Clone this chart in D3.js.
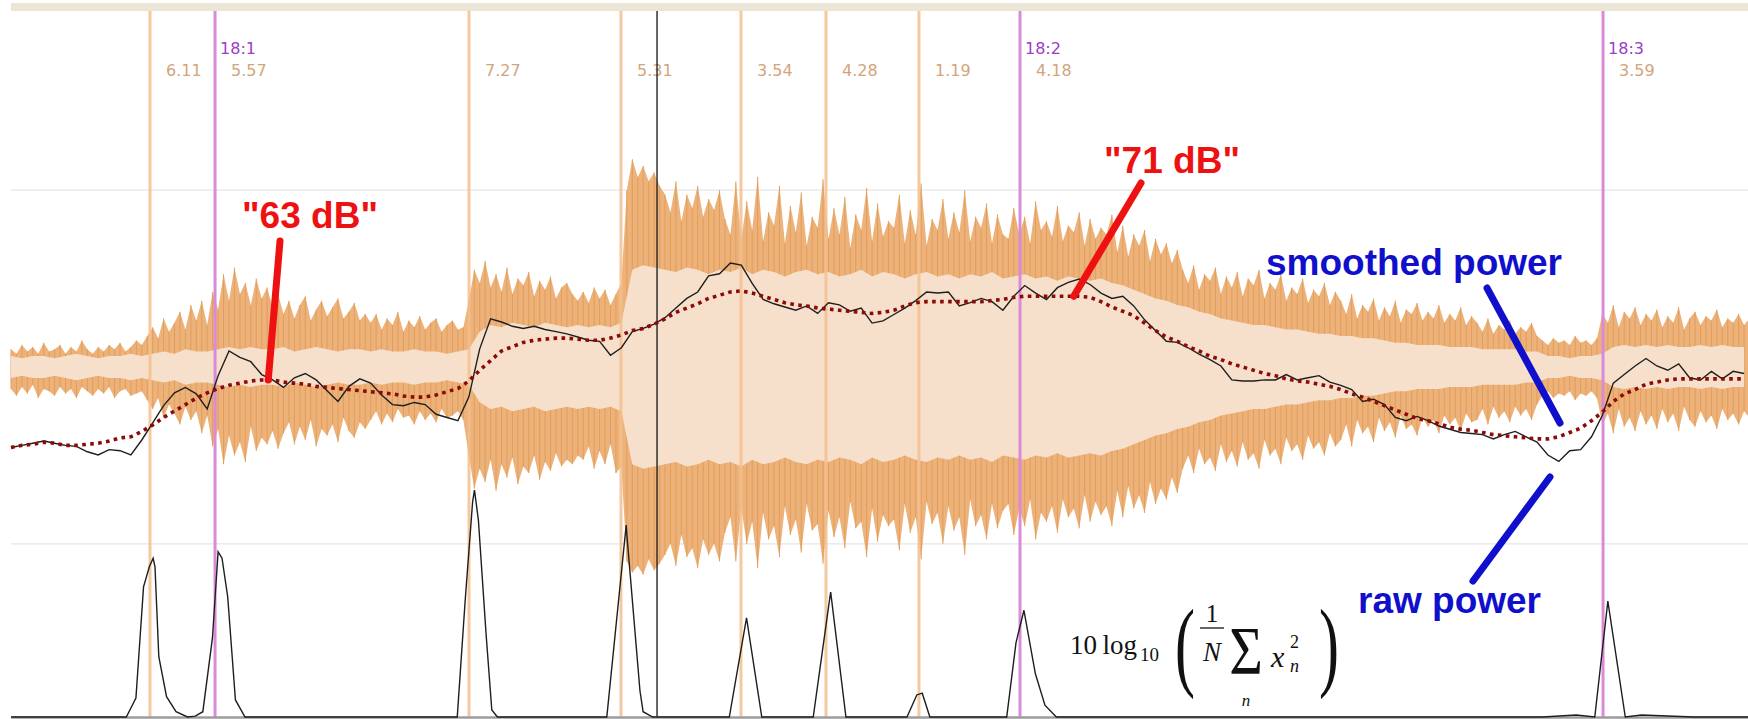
<!DOCTYPE html>
<html>
<head>
<meta charset="utf-8">
<script src="https://cdn.jsdelivr.net/npm/d3@7/dist/d3.min.js"></script>
<style>
  html, body { margin: 0; padding: 0; background: #fff; }
  svg { display: block; }
</style>
</head>
<body>
<div id="chart"></div>
<script>
// one value per analysis frame (frame 0..159)
const rawDb = [56.8, 57.0, 57.2, 57.4, 57.2, 57.0, 56.9, 56.4, 56.1, 56.6,
  56.5, 56.1, 57.5, 59.1, 60.7, 61.9, 62.4, 61.8, 60.4, 63.5,
  65.8, 65.2, 64.8, 63.6, 63.1, 62.4, 63.3, 63.7, 63.1, 62.1,
  61.1, 62.5, 63.2, 62.8, 61.7, 60.8, 60.7, 61.0, 60.8, 59.9,
  59.6, 59.3, 61.5, 66.0, 68.8, 68.5, 68.1, 67.9, 68.1, 67.8,
  67.6, 67.4, 67.1, 66.8, 66.7, 65.4, 66.1, 67.6, 67.9, 68.3,
  68.9, 69.8, 70.7, 71.3, 72.8, 73.0, 74.0, 73.8, 72.1, 70.6,
  70.2, 69.9, 69.6, 70.0, 69.3, 70.3, 70.1, 69.5, 69.8, 68.4,
  68.6, 69.2, 69.8, 70.5, 71.3, 71.2, 71.3, 70.0, 70.3, 70.7,
  70.4, 69.6, 70.9, 71.9, 71.2, 70.6, 71.7, 72.2, 72.5, 72.0,
  71.2, 70.7, 70.9, 70.0, 68.7, 67.7, 66.7, 66.6, 66.1, 65.5,
  65.0, 64.4, 63.1, 63.0, 63.0, 63.1, 63.1, 63.6, 63.1, 63.3,
  63.5, 62.9, 62.6, 62.2, 61.1, 61.3, 60.8, 59.6, 59.3, 59.7,
  59.3, 58.8, 58.5, 58.2, 58.1, 58.0, 57.6, 58.0, 58.3, 57.8,
  57.3, 56.1, 55.5, 56.5, 56.6, 57.8, 59.8, 62.8, 63.6, 64.4,
  65.1, 64.4, 64.0, 64.6, 63.3, 63.1, 63.9, 63.2, 63.9, 63.7];

const smoothDb = [56.8, 57.0, 57.1, 57.3, 57.2, 57.0, 57.0, 57.1, 57.2, 57.4,
  57.7, 57.8, 58.3, 58.9, 59.6, 60.2, 60.8, 61.4, 61.9, 62.3,
  62.6, 62.8, 63.0, 63.1, 63.1, 62.9, 62.8, 62.7, 62.5, 62.4,
  62.3, 62.2, 62.1, 62.0, 61.9, 61.8, 61.6, 61.5, 61.5, 61.7,
  62.0, 62.3, 63.0, 64.0, 64.9, 65.8, 66.2, 66.6, 66.8, 66.9,
  67.0, 67.0, 66.9, 66.8, 66.8, 67.0, 67.3, 67.7, 67.9, 68.3,
  68.8, 69.4, 69.8, 70.2, 70.7, 71.0, 71.3, 71.4, 71.2, 70.9,
  70.6, 70.3, 70.1, 70.0, 69.8, 69.7, 69.6, 69.5, 69.4, 69.3,
  69.4, 69.6, 70.0, 70.3, 70.4, 70.4, 70.4, 70.4, 70.4, 70.4,
  70.5, 70.6, 70.8, 70.9, 70.9, 70.9, 70.9, 70.9, 70.9, 70.8,
  70.4, 69.9, 69.5, 69.1, 68.4, 67.7, 67.1, 66.7, 66.2, 65.8,
  65.3, 65.0, 64.6, 64.3, 64.0, 63.7, 63.5, 63.2, 63.0, 62.9,
  62.7, 62.5, 62.2, 61.8, 61.5, 61.1, 60.7, 60.3, 59.9, 59.5,
  59.3, 59.0, 58.7, 58.5, 58.4, 58.2, 58.0, 57.9, 57.8, 57.7,
  57.6, 57.6, 57.8, 58.2, 58.6, 59.3, 60.1, 61.1, 61.8, 62.2,
  62.7, 62.9, 63.1, 63.2, 63.2, 63.2, 63.2, 63.2, 63.2, 63.2];

// rms level of the waveform, % of full scale, per frame
const rmsLevel = [5, 4, 5, 5, 4, 5, 6, 5, 4, 5, 5, 6, 5,
  6, 7, 6, 8, 7, 7,
  8, 9, 8, 9, 8, 8, 9, 7, 8, 9, 8, 7, 8, 8, 7, 8, 7, 7, 8, 7, 7, 6, 7, 8,
  16, 19, 18, 20, 19, 18, 20, 19, 18, 19, 18, 19, 18, 20,
  44, 46, 45, 44, 43, 45, 44, 42, 44, 43, 45, 42, 44, 43, 41, 43, 44, 42, 43, 41,
  42, 44, 41, 43, 42, 40, 42, 43, 41, 42, 40, 42, 41, 43, 40, 41, 42, 40, 41, 39,
  41, 40, 39, 40, 38,
  37, 35, 33, 31, 30, 28, 27, 25, 24, 22,
  21, 20, 19, 19, 18, 17, 17, 16, 15, 15, 14, 14, 13, 13, 12,
  11, 11, 10, 10, 10, 9, 9, 9, 8, 8, 8, 8, 7, 7,
  5, 5, 4, 5, 5, 6,
  9, 10, 9, 10, 9, 10, 9, 9, 10, 9, 10, 9, 9];

// waveform peaks, % of full scale, two per frame
const waveMax = [8, 6, 10, 7, 9, 6, 11, 7, 8, 10, 6, 9, 7, 12, 8, 6, 9, 7, 10, 8, 11, 7, 9, 12, 10,
  14, 18, 13, 22, 16, 20, 25, 17, 28, 21, 30, 19,
  34, 26, 42, 30, 45, 33, 38, 28, 40, 31, 36, 27, 33,
  24, 30, 22, 28, 32, 21, 26, 30, 23, 27, 31, 22, 25, 29, 21, 24,
  20, 24, 17, 22, 19, 25, 16, 21, 18, 23, 17, 20, 22, 16, 19, 21, 17, 18,
  30, 44, 38, 48, 36, 42, 34, 45, 33, 40, 37, 43, 32, 39, 35, 41, 31, 36, 38, 33, 30,
  34, 29, 36, 31, 35, 28, 33, 38,
  80, 94, 86, 91, 84, 88, 82, 78,
  70, 84, 66, 78, 72, 82, 68, 76, 71, 80, 67,
  60, 84, 58, 75, 62, 86, 57, 70, 64, 82, 56, 73, 61, 79, 55, 68, 63, 85, 58, 72,
  60, 77, 54, 69, 62, 81, 57, 74, 59, 66, 63, 78, 56, 71, 60, 83, 55, 67, 62, 76,
  58, 70, 61, 80, 57, 68, 63, 74, 56, 69, 60,
  58, 72, 60, 68, 56, 75, 62, 66, 59, 73, 57, 64, 61, 70, 55, 67, 58, 63, 60, 69,
  52, 64, 50, 60, 55, 62, 48, 58, 51, 56, 47, 53,
  44, 38, 46, 35, 42, 39, 45, 33, 41, 36, 43, 32, 40, 37, 44, 31, 38, 35, 42, 30,
  36, 33, 40, 29, 35, 32, 38, 28, 34,
  30, 24, 33, 22, 28, 25, 31, 21, 27, 23, 30, 20, 26, 24, 29, 21, 25, 22, 28, 20,
  24, 21, 27, 19, 23,
  20, 16, 22, 15, 19, 17, 21, 15, 18, 16, 20, 14,
  12, 10, 13, 11, 12, 10, 14, 11, 12, 10, 13,
  24, 20, 28, 18, 25, 22, 27, 19, 24, 21, 26, 18, 23, 20, 27, 17, 22, 25, 19, 23,
  21, 26, 18, 22, 20, 24, 19, 22];

const waveMin = [10, 13, 9, 12, 8, 14, 10, 11, 13, 9, 12, 10, 14, 9, 11, 13, 10, 12, 9, 14, 11, 10, 13, 12, 11,
  15, 19, 14, 23, 17, 21, 26, 18, 24, 20, 30, 22,
  36, 28, 44, 31, 40, 34, 43, 27, 38, 32, 35, 29, 37,
  30, 25, 35, 27, 33, 24, 36, 28, 31, 26, 34, 23, 29, 32, 25, 28,
  24, 20, 26, 21, 25, 19, 23, 22, 26, 20, 24, 21, 25, 19, 23, 22, 20, 24,
  40, 55, 46, 52, 42, 56, 44, 50, 41, 53, 45, 48, 40, 51, 43, 47, 39, 45, 42, 44, 40,
  42, 36, 46, 38, 44, 35, 48, 45,
  88, 93, 90, 94, 87, 92, 89, 85,
  80, 90, 76, 86, 82, 91, 78, 85, 80, 88, 75,
  68, 88, 64, 80, 70, 91, 66, 78, 72, 86, 63, 76, 69, 84, 62, 74, 71, 89, 65, 77,
  68, 82, 61, 73, 70, 86, 64, 79, 67, 72, 69, 83, 62, 75, 68, 87, 61, 71, 66, 80,
  63, 74, 68, 85, 60, 72, 67, 78, 62, 73, 65,
  62, 76, 64, 72, 60, 78, 66, 70, 63, 75, 60, 68, 64, 73, 58, 70, 61, 67, 63, 72,
  56, 68, 54, 64, 58, 66, 52, 62, 55, 60, 50, 57,
  46, 40, 48, 37, 44, 41, 47, 35, 43, 38, 45, 34, 42, 39, 46, 33, 40, 37, 44, 32,
  38, 35, 42, 31, 37, 34, 40, 30, 36,
  33, 26, 36, 24, 30, 27, 34, 23, 29, 25, 32, 22, 28, 26, 31, 23, 27, 24, 30, 22,
  26, 23, 29, 21, 25,
  24, 19, 26, 18, 23, 20, 25, 18, 22, 19, 24, 17,
  13, 11, 14, 12, 13, 11, 15, 12, 13, 11, 14,
  26, 21, 30, 19, 27, 23, 29, 20, 26, 22, 28, 19, 25, 21, 29, 18, 24, 27, 20, 25,
  22, 28, 19, 24, 21, 26, 20, 23];

// onset detection function (vertices)
const odfFrames = [0, 10.58, 11.46, 12.16, 12.69, 13.04, 13.21, 13.56, 14.27, 15.14, 16.19, 16.9, 17.6,
  18.48, 19.0, 19.36, 19.88, 20.59, 21.47,
  40.94, 41.65, 42.35, 42.52, 42.88, 43.58, 44.11, 44.63,
  54.66, 56.44, 56.5, 57.7, 57.99, 58.87,
  65.9, 67.4, 67.48, 68.88,
  73.6, 75.1, 75.2, 76.6,
  82.2, 83.1, 83.6, 84.3,
  91.35, 92.2, 92.93, 93.98, 94.86, 95.9,
  140.5, 143.6, 145.3, 146.5, 148.1, 149.6, 154.4, 159.5];
const odfValues = [0, 0, 0.64, 4.43, 5.11, 5.40, 5.11, 2.05, 0.69, 0.18, 0, 0.03, 0.18,
  2.68, 5.62, 5.40, 4.09, 0.58, 0,
  0, 3.87, 7.32, 7.72, 6.70, 2.85, 0.24, 0,
  0, 6.53, 6.2, 0.9, 0.18, 0,
  0, 3.2, 3.37, 0,
  0, 4.0, 4.25, 0,
  0, 0.75, 0.81, 0,
  0, 2.52, 3.63, 1.47, 0.40, 0,
  0, 0.07, 0, 3.94, 0, 0.07, 0, 0];

// beats
const beatFrames = [12.75, 18.72, 42.02, 55.96, 66.97, 74.77, 83.30, 92.57, 146.06];
const beatStrength = ["6.11", "5.57", "7.27", "5.31", "3.54", "4.28", "1.19", "4.18", "3.59"];
const barLabels = ["", "18:1", "", "", "", "", "", "18:2", "18:3"];
const cursorFrame = 59.27;
const gridLevels = [80, -80];

const width = 1748, height = 719;
const left = 11;

const svg = d3.select('#chart')
    .append('svg')
    .attr('width', width)
    .attr('height', height);

const x = d3.scaleLinear().domain([0, 160]).range([left, left + 1744]);
const waveY = d3.scaleLinear().domain([-100, 100]).range([367 + 221, 367 - 221]);
const dbY = d3.scaleLinear().domain([63, 71]).range([381, 295.2]);
const odfY = d3.scaleLinear().domain([0, 10]).range([717, 423]);

// top ruler band
svg.append('rect')
    .attr('x', left).attr('y', 3)
    .attr('width', width - left).attr('height', 8)
    .attr('fill', '#ebe5d6');

// grid
svg.selectAll('.grid')
    .data(gridLevels)
    .enter().append('line')
    .attr('x1', left).attr('x2', width)
    .attr('y1', d => waveY(d)).attr('y2', d => waveY(d))
    .attr('stroke', '#e6e6e6')
    .attr('stroke-width', 1.2);

// waveform peaks: envelope + one thin stroke per sample
const peakArea = d3.area()
    .x((d, j) => x(j / 2))
    .y0((d, j) => waveY(-waveMin[j]))
    .y1((d, j) => waveY(waveMax[j]));

svg.append('path')
    .datum(waveMax)
    .attr('d', peakArea)
    .attr('fill', '#ecb27a');

svg.selectAll('.spike')
    .data(waveMax)
    .enter().append('line')
    .attr('x1', (d, j) => x(j / 2)).attr('x2', (d, j) => x(j / 2))
    .attr('y1', d => waveY(d))
    .attr('y2', (d, j) => waveY(-waveMin[j]))
    .attr('stroke', '#e29d5a')
    .attr('stroke-width', 1);

// waveform rms
const rmsArea = d3.area()
    .x((d, i) => x(i))
    .y0(d => waveY(-d))
    .y1(d => waveY(d));

svg.append('path')
    .datum(rmsLevel)
    .attr('d', rmsArea)
    .attr('fill', '#f7e0cb');

// beat and bar lines
svg.selectAll('.beat')
    .data(beatFrames)
    .enter().append('line')
    .attr('x1', d => x(d)).attr('x2', d => x(d))
    .attr('y1', 11).attr('y2', 717)
    .attr('stroke', (d, k) => barLabels[k] ? '#d98bd9' : '#f3c08e')
    .attr('stroke-opacity', (d, k) => barLabels[k] ? 1 : 0.85)
    .attr('stroke-width', 3);

// beat strength labels
svg.selectAll('.strength')
    .data(beatFrames)
    .enter().append('text')
    .attr('x', d => x(d) + 16)
    .attr('y', 76)
    .attr('font-family', 'DejaVu Sans, Verdana, sans-serif')
    .attr('font-size', 16)
    .attr('fill', '#d2a57c')
    .text((d, k) => beatStrength[k]);

svg.selectAll('.bar')
    .data(beatFrames.filter((d, k) => barLabels[k]))
    .enter().append('text')
    .attr('x', d => x(d) + 5)
    .attr('y', 54)
    .attr('font-family', 'DejaVu Sans, Verdana, sans-serif')
    .attr('font-size', 16)
    .attr('fill', '#9a40c4')
    .text(d => barLabels[beatFrames.indexOf(d)]);

// playback cursor
svg.append('line')
    .attr('x1', x(cursorFrame)).attr('x2', x(cursorFrame))
    .attr('y1', 11).attr('y2', 717)
    .attr('stroke', '#222')
    .attr('stroke-width', 1.4);

// raw power
const powerLine = d3.line()
    .x((d, i) => x(i))
    .y(d => dbY(d));

svg.append('path')
    .datum(rawDb)
    .attr('d', powerLine)
    .attr('fill', 'none')
    .attr('stroke', '#1e1e1e')
    .attr('stroke-width', 1.4);

// smoothed power
svg.append('path')
    .datum(smoothDb)
    .attr('d', powerLine)
    .attr('fill', 'none')
    .attr('stroke', '#8c0a0a')
    .attr('stroke-width', 3.6)
    .attr('stroke-dasharray', '3.6,4.4');

// onset detection function
const odfLine = d3.line()
    .x(d => x(d[0]))
    .y(d => odfY(d[1]));

svg.append('line')
    .attr('x1', left).attr('x2', width)
    .attr('y1', 717.5).attr('y2', 717.5)
    .attr('stroke', '#9c9c9c')
    .attr('stroke-width', 2.5);

svg.append('path')
    .datum(odfFrames.map((f, i) => [f, odfValues[i]]))
    .attr('d', odfLine)
    .attr('fill', 'none')
    .attr('stroke', '#1e1e1e')
    .attr('stroke-width', 1.4);

// annotations
const note = (txt, tx, ty, color, anchor) => svg.append('text')
    .attr('x', tx).attr('y', ty)
    .attr('text-anchor', anchor)
    .attr('font-family', 'Liberation Sans, Arial, sans-serif')
    .attr('font-weight', 'bold')
    .attr('font-size', 37)
    .attr('fill', color)
    .text(txt);
const pointer = (x1, y1, x2, y2, color) => svg.append('line')
    .attr('x1', x1).attr('y1', y1).attr('x2', x2).attr('y2', y2)
    .attr('stroke', color)
    .attr('stroke-width', 7)
    .attr('stroke-linecap', 'round');

note('"63 dB"', 310, 228, '#ee1111', 'middle');
pointer(280, 241, x(23.6), dbY(smoothDb[23]), '#ee1111');
note('"71 dB"', 1172, 173, '#ee1111', 'middle');
pointer(1141, 183, x(97.5), dbY(70.9), '#ee1111');

note('smoothed power', 1266, 275, '#1010cc', 'start');
pointer(1487, 288, 1560, 423, '#1010cc');
note('raw power', 1358, 613, '#1010cc', 'start');
pointer(1550, 477, 1473, 581, '#1010cc');

// formula 10 log10( 1/N sum_n x_n^2 )
const f = svg.append('g')
    .attr('font-family', 'Liberation Serif, Times New Roman, serif')
    .attr('fill', '#111');
f.append('text').attr('x', 1070).attr('y', 654).attr('font-size', 27).text('10\u2009log');
f.append('text').attr('x', 1140).attr('y', 661).attr('font-size', 19).text('10');
f.append('text').attr('transform', 'translate(1185,678) scale(0.6,1)')
    .attr('text-anchor', 'middle').attr('font-size', 100).text('(');
f.append('text').attr('x', 1212).attr('y', 622).attr('text-anchor', 'middle').attr('font-size', 25).text('1');
f.append('line').attr('x1', 1200).attr('x2', 1224).attr('y1', 628).attr('y2', 628)
    .attr('stroke', '#111').attr('stroke-width', 1.3);
f.append('text').attr('x', 1212).attr('y', 661).attr('text-anchor', 'middle')
    .attr('font-size', 27).attr('font-style', 'italic').text('N');
f.append('text').attr('transform', 'translate(1246,673) scale(0.85,1)')
    .attr('text-anchor', 'middle').attr('font-size', 68).text('\u03A3');
f.append('text').attr('x', 1246).attr('y', 706).attr('text-anchor', 'middle')
    .attr('font-size', 17).attr('font-style', 'italic').text('n');
f.append('text').attr('x', 1271).attr('y', 667).attr('font-size', 30).attr('font-style', 'italic').text('x');
f.append('text').attr('x', 1290).attr('y', 648).attr('font-size', 18).text('2');
f.append('text').attr('x', 1290).attr('y', 672).attr('font-size', 18).attr('font-style', 'italic').text('n');
f.append('text').attr('transform', 'translate(1329,678) scale(0.6,1)')
    .attr('text-anchor', 'middle').attr('font-size', 100).text(')');
</script>
</body>
</html>
